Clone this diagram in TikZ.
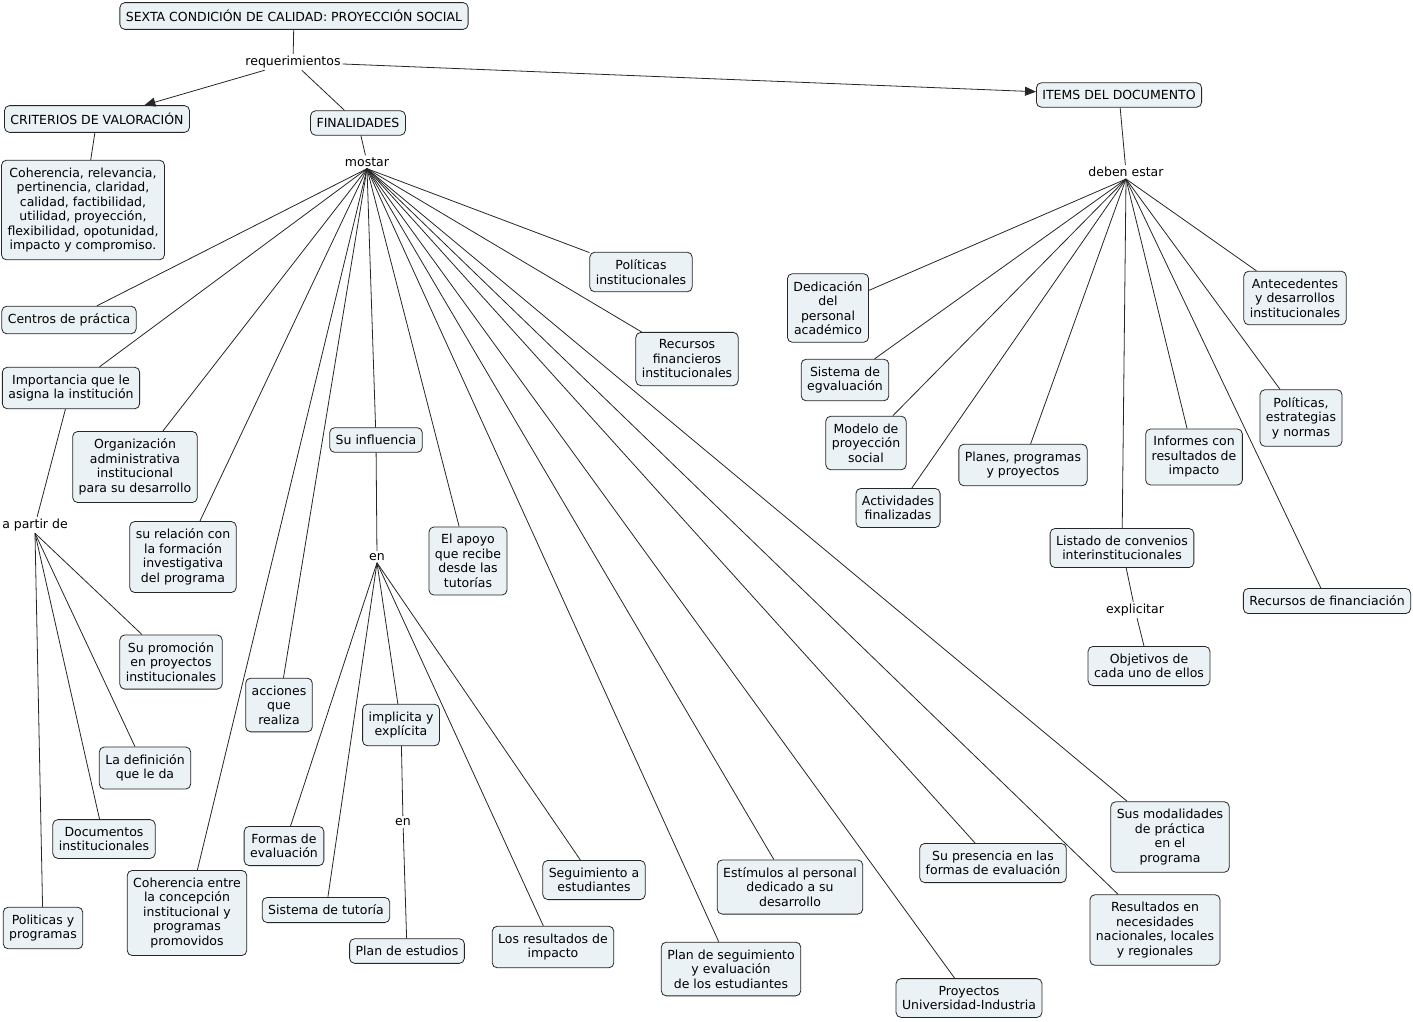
\documentclass[tikz,border=0pt]{standalone}
\usepackage{fontspec}
\setmainfont{DejaVu Sans}
\usetikzlibrary{arrows.meta}
\definecolor{cmapfill}{RGB}{235,242,245}

\begin{document}
\begin{tikzpicture}[
    x=1pt, y=-1pt,
    font=\fontsize{12.5}{14.5}\selectfont,
    concept/.style={draw=black!85, fill=cmapfill, rounded corners=5pt, align=center, inner xsep=6pt, inner ysep=7.5pt, line width=0.8pt},
    link/.style={inner sep=2pt, align=center},
    conn/.style={draw=black!85, line width=0.8pt},
    flecha/.style={conn, -{Triangle[length=11pt,width=9pt]}}
]
    \useasboundingbox (0,0) rectangle (1413,1021);

    % Raíz
    \node[concept] (sexta) at (294,16) {SEXTA CONDICIÓN DE CALIDAD: PROYECCIÓN SOCIAL};
    \node[link] (requer) at (293,62) {requerimientos};

    % Criterios
    \node[concept] (criterios) at (97,119) {CRITERIOS DE VALORACIÓN};
    \node[concept] (coheren) at (83,210) {Coherencia, relevancia,\\pertinencia, claridad,\\calidad, factibilidad,\\utilidad, proyección,\\flexibilidad, opotunidad,\\impacto y compromiso.};

    % Finalidades
    \node[concept] (finalid) at (358,123) {FINALIDADES};
    \node[link] (mostar) at (367,162) {mostar};

    \node[concept] (politicas) at (641,272) {Políticas\\institucionales};
    \node[concept] (recursos) at (687,359) {Recursos\\financieros\\institucionales};
    \node[concept] (centros) at (69,320) {Centros de práctica};
    \node[concept] (importa) at (71,388) {Importancia que le\\asigna la institución};
    \node[concept] (organiz) at (135,467) {Organización\\administrativa\\institucional\\para su desarrollo};
    \node[concept] (relacion) at (183,557) {su relación con\\la formación\\investigativa\\del programa};
    \node[concept] (influen) at (376,440) {Su influencia};
    \node[concept] (apoyo) at (468,561) {El apoyo\\que recibe\\desde las\\tutorías};
    \node[concept] (acciones) at (279,705) {acciones\\que\\realiza};
    \node[concept] (cohentre) at (187,913) {Coherencia entre\\la concepción\\institucional y\\programas\\promovidos};
    \node[concept] (estimul) at (790,887) {Estímulos al personal\\dedicado a su\\desarrollo};
    \node[concept] (planseg) at (731,969) {Plan de seguimiento\\y evaluación\\de los estudiantes};
    \node[concept] (presencia) at (993,863) {Su presencia en las\\formas de evaluación};
    \node[concept] (proyuni) at (969,998) {Proyectos\\Universidad-Industria};
    \node[concept] (modalid) at (1170,837) {Sus modalidades\\de práctica\\en el\\programa};
    \node[concept] (resnec) at (1155,930) {Resultados en\\necesidades\\nacionales, locales\\y regionales};

    % a partir de
    \node[link] (apartir) at (35,525) {a partir de};
    \node[concept] (promocion) at (171,662) {Su promoción\\en proyectos\\institucionales};
    \node[concept] (definic) at (145,768) {La definición\\que le da};
    \node[concept] (documen) at (104,839) {Documentos\\institucionales};
    \node[concept] (polprog) at (43,928) {Politicas y\\programas};

    % en
    \node[link] (en1) at (377,557) {en};
    \node[concept] (implic) at (401,725) {implicita y\\explícita};
    \node[link] (en2) at (403,822) {en};
    \node[concept] (planest) at (407,951) {Plan de estudios};
    \node[concept] (formas) at (284,846) {Formas de\\evaluación};
    \node[concept] (sistut) at (326,910) {Sistema de tutoría};
    \node[concept] (seguim) at (594,880) {Seguimiento a\\estudiantes};
    \node[concept] (losres) at (553,947) {Los resultados de\\impacto};

    % Items del documento
    \node[concept] (items) at (1119,95) {ITEMS DEL DOCUMENTO};
    \node[link] (deben) at (1126,172) {deben estar};
    \node[concept] (dedica) at (828,308) {Dedicación\\del\\personal\\académico};
    \node[concept] (sisev) at (845,380) {Sistema de\\egvaluación};
    \node[concept] (modelo) at (866,443) {Modelo de\\proyección\\social};
    \node[concept] (activid) at (898,508) {Actividades\\finalizadas};
    \node[concept] (planes) at (1023,465) {Planes, programas\\y proyectos};
    \node[concept] (listado) at (1122,548) {Listado de convenios\\interinstitucionales};
    \node[link] (explic) at (1135,610) {explicitar};
    \node[concept] (objetiv) at (1149,666) {Objetivos de\\cada uno de ellos};
    \node[concept] (informes) at (1194,457) {Informes con\\resultados de\\impacto};
    \node[concept] (antece) at (1295,298) {Antecedentes\\y desarrollos\\institucionales};
    \node[concept] (polest) at (1301,418) {Políticas,\\estrategias\\y normas};
    \node[concept] (recfin) at (1327,601) {Recursos de financiación};

    % Conectores
    \draw[conn] (sexta) -- (requer);
    \draw[flecha] (requer) -- (criterios);
    \draw[conn] (requer) -- (finalid);
    \draw[flecha] (requer) -- (items);
    \draw[conn] (criterios) -- (coheren);
    \draw[conn] (finalid) -- (mostar);
    \foreach \n in {politicas,recursos,centros,importa,organiz,relacion,influen,apoyo,acciones,cohentre,estimul,planseg,presencia,proyuni,modalid,resnec}
        \draw[conn] (mostar.south) -- (\n);
    \draw[conn] (importa) -- (apartir);
    \foreach \n in {promocion,definic,documen,polprog}
        \draw[conn] (apartir.south) -- (\n);
    \draw[conn] (influen) -- (en1);
    \foreach \n in {implic,formas,sistut,seguim,losres}
        \draw[conn] (en1.south) -- (\n);
    \draw[conn] (implic) -- (en2);
    \draw[conn] (en2) -- (planest);
    \draw[conn] (items) -- (deben);
    \foreach \n in {dedica,sisev,modelo,activid,planes,listado,informes,antece,polest,recfin}
        \draw[conn] (deben.south) -- (\n);
    \draw[conn] (listado) -- (explic);
    \draw[conn] (explic) -- (objetiv);

\end{tikzpicture}
\end{document}
